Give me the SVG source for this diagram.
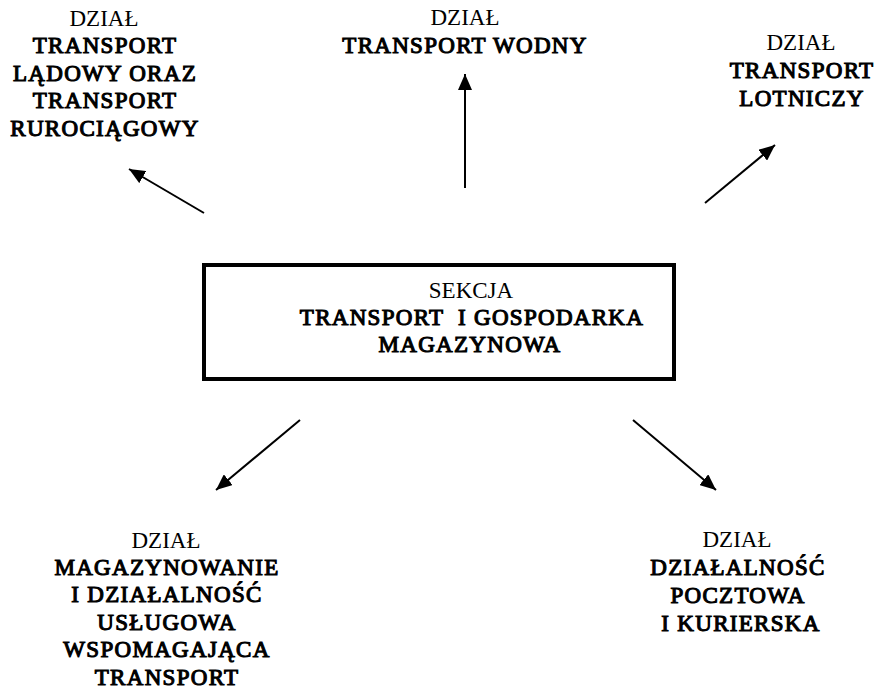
<svg xmlns="http://www.w3.org/2000/svg" width="878" height="691" viewBox="0 0 878 691">
<style>
text{font-family:"Liberation Serif","Times New Roman",serif;font-size:23px;fill:#000;text-anchor:middle}
.b{stroke:#000;stroke-width:1.1;letter-spacing:1.3px}
.c{stroke:#000;stroke-width:2;fill:none}
</style>
<defs>
<marker id="ah" markerUnits="userSpaceOnUse" markerWidth="18" markerHeight="14" refX="16" refY="7" orient="auto"><path d="M0,0 L16,7 L0,14 z" fill="#000"/></marker>
</defs>
<rect width="878" height="691" fill="#fff"/>
<g id="connectors">
<line class="c" x1="204" y1="213" x2="129" y2="169" marker-end="url(#ah)"/>
<line class="c" x1="465" y1="188" x2="465" y2="74" marker-end="url(#ah)"/>
<line class="c" x1="705" y1="203" x2="775" y2="145" marker-end="url(#ah)"/>
<line class="c" x1="300" y1="420" x2="216" y2="490" marker-end="url(#ah)"/>
<line class="c" x1="633" y1="420" x2="716" y2="490" marker-end="url(#ah)"/>
</g>
<g id="center">
<rect x="204" y="265" width="470" height="114" fill="none" stroke="#000" stroke-width="4"/>
<text x="471" y="298">SEKCJA</text>
<text class="b" x="472" y="325" style="white-space:pre">TRANSPORT  I GOSPODARKA</text>
<text class="b" x="470" y="352">MAGAZYNOWA</text>
</g>
<g id="ladowy">
<text x="104" y="26">DZIAŁ</text>
<text class="b" x="105" y="53">TRANSPORT</text>
<text class="b" x="105" y="81">LĄDOWY ORAZ</text>
<text class="b" x="105" y="108">TRANSPORT</text>
<text class="b" x="105" y="136">RUROCIĄGOWY</text>
</g>
<g id="wodny">
<text x="465" y="25">DZIAŁ</text>
<text class="b" x="465" y="53">TRANSPORT WODNY</text>
</g>
<g id="lotniczy">
<text x="801" y="50">DZIAŁ</text>
<text class="b" x="802" y="78">TRANSPORT</text>
<text class="b" x="802" y="106">LOTNICZY</text>
</g>
<g id="magazynowanie">
<text x="166" y="548">DZIAŁ</text>
<text class="b" x="167" y="575">MAGAZYNOWANIE</text>
<text class="b" x="167" y="602">I DZIAŁALNOŚĆ</text>
<text class="b" x="167" y="630">USŁUGOWA</text>
<text class="b" x="167" y="657">WSPOMAGAJĄCA</text>
<text class="b" x="167" y="685">TRANSPORT</text>
</g>
<g id="pocztowa">
<text x="737" y="547">DZIAŁ</text>
<text class="b" x="738" y="575">DZIAŁALNOŚĆ</text>
<text class="b" x="738" y="603">POCZTOWA</text>
<text class="b" x="741" y="631">I KURIERSKA</text>
</g>
</svg>
